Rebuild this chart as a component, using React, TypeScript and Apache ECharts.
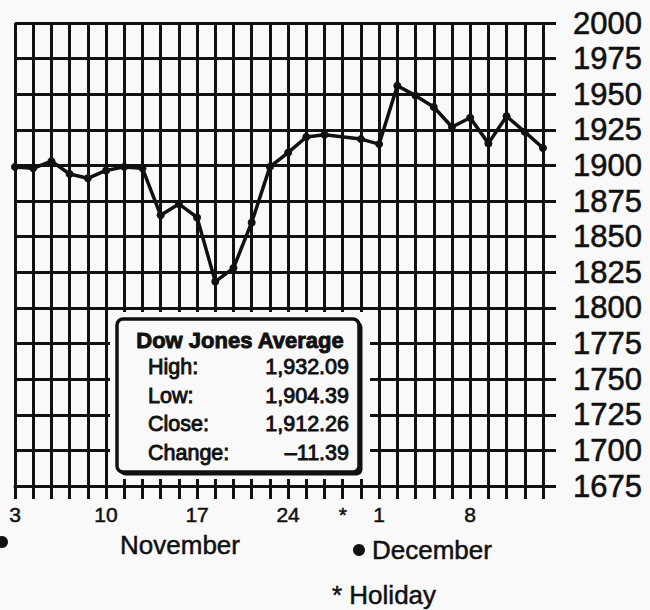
import React, { useEffect, useRef } from "react";
import * as echarts from "echarts";

// Trading days, Nov 3 – Dec 12 (holiday Nov 27 included as a grid line)
const categories = [
  "Nov 3", "Nov 4", "Nov 5", "Nov 6", "Nov 7",
  "Nov 10", "Nov 11", "Nov 12", "Nov 13", "Nov 14",
  "Nov 17", "Nov 18", "Nov 19", "Nov 20", "Nov 21",
  "Nov 24", "Nov 25", "Nov 26", "Nov 27", "Nov 28",
  "Dec 1", "Dec 2", "Dec 3", "Dec 4", "Dec 5",
  "Dec 8", "Dec 9", "Dec 10", "Dec 11", "Dec 12",
];
const tickLabels = [
  "3", "", "", "", "",
  "10", "", "", "", "",
  "17", "", "", "", "",
  "24", "", "", "*", "",
  "1", "", "", "", "",
  "8", "", "", "", "",
];
const closes: (number | null)[] = [
  1899, 1898, 1903, 1894, 1891,
  1896.5, 1899, 1898, 1865, 1873,
  1863.5, 1818.5, 1828, 1860, 1899,
  1909, 1920, 1921.5, null, 1918.5,
  1915, 1956, 1949, 1941, 1927,
  1933.5, 1915.5, 1934.5, 1923.6, 1912.3,
];
const yMin = 1675;
const yMax = 2000;
const yStep = 25;

const boxTitle = "Dow Jones Average";
const boxLabels = ["High:", "Low:", "Close:", "Change:"];
const boxValues = ["1,932.09", "1,904.39", "1,912.26", "\u201311.39"];

const monthLabels = ["November", "December"];
const holidayNote = "* Holiday";

const INK = "#111";
const PAPER = "#f9f9f9";
const FONT = "'Liberation Sans', Arial, Helvetica, sans-serif";

export default function App() {
  const ref = useRef<HTMLDivElement>(null);

  useEffect(() => {
    if (!ref.current) return;
    const chart = echarts.init(ref.current, undefined, { renderer: "svg" });

    const ink = (w: number) => ({ stroke: INK, lineWidth: w });
    const boxRowY = [367, 395.5, 424, 452.5];
    const graphics: any[] = [
      // white margin around the inset box
      { type: "rect", z: 100, shape: { x: 110, y: 312, width: 260, height: 167 }, style: { fill: PAPER } },
      // shadow
      { type: "rect", z: 101, shape: { x: 119.5, y: 321.5, width: 243, height: 154, r: 6 }, style: { fill: INK } },
      // box
      { type: "rect", z: 102, shape: { x: 117, y: 319, width: 242, height: 153, r: 6 }, style: { fill: PAPER, stroke: INK, lineWidth: 3.5 } },
      {
        type: "text", z: 103, x: 240, y: 340,
        style: { text: boxTitle, fill: INK, font: `bold 22px ${FONT}`, align: "center", verticalAlign: "middle", ...ink(0.9) },
      },
    ];
    boxLabels.forEach((t, i) => {
      graphics.push({
        type: "text", z: 103, x: 148, y: boxRowY[i],
        style: { text: t, fill: INK, font: `21.5px ${FONT}`, align: "left", verticalAlign: "middle", ...ink(0.9) },
      });
      graphics.push({
        type: "text", z: 103, x: 349, y: boxRowY[i],
        style: { text: boxValues[i], fill: INK, font: `21.5px ${FONT}`, align: "right", verticalAlign: "middle", ...ink(0.9) },
      });
    });
    // month markers
    graphics.push(
      { type: "circle", z: 103, shape: { cx: 2, cy: 542, r: 6 }, style: { fill: INK } },
      {
        type: "text", z: 103, x: 180, y: 545,
        style: { text: monthLabels[0], fill: INK, font: `26px ${FONT}`, align: "center", verticalAlign: "middle", ...ink(0.5) },
      },
      { type: "circle", z: 103, shape: { cx: 359, cy: 550, r: 6 }, style: { fill: INK } },
      {
        type: "text", z: 103, x: 372, y: 550,
        style: { text: monthLabels[1], fill: INK, font: `26px ${FONT}`, align: "left", verticalAlign: "middle", ...ink(0.5) },
      },
      {
        type: "text", z: 103, x: 332, y: 595,
        style: { text: holidayNote, fill: INK, font: `26px ${FONT}`, align: "left", verticalAlign: "middle", ...ink(0.5) },
      }
    );

    chart.setOption({
      animation: false,
      backgroundColor: PAPER,
      grid: { left: 15, right: 107, top: 23, bottom: 124, containLabel: false, outerBoundsMode: "none" },
      xAxis: {
        type: "category",
        data: categories,
        boundaryGap: false,
        axisLine: { show: true, lineStyle: { color: INK, width: 3 } },
        axisTick: { show: true, interval: 0, length: 13, inside: false, lineStyle: { color: INK, width: 3 } },
        splitLine: { show: true, interval: 0, lineStyle: { color: INK, width: 3 } },
        axisLabel: {
          show: true,
          interval: 0,
          margin: 18,
          color: INK,
          fontFamily: FONT,
          fontSize: 21,
          textBorderColor: INK,
          textBorderWidth: 0.5,
          formatter: (_v: string, i: number) => tickLabels[i],
        },
      },
      yAxis: {
        type: "value",
        position: "right",
        min: yMin,
        max: yMax,
        interval: yStep,
        axisLine: { show: false },
        axisTick: { show: true, length: 13, inside: false, lineStyle: { color: INK, width: 3 } },
        splitLine: { show: true, lineStyle: { color: INK, width: 3 } },
        axisLabel: {
          show: true,
          margin: 30,
          color: INK,
          fontFamily: FONT,
          fontSize: 31,
          textBorderColor: INK,
          textBorderWidth: 0.6,
          formatter: (v: number) => String(v),
        },
      },
      series: [
        {
          type: "line",
          data: closes,
          connectNulls: true,
          symbol: "circle",
          symbolSize: 8,
          showSymbol: true,
          lineStyle: { color: INK, width: 3.5 },
          itemStyle: { color: INK },
          z: 5,
        },
      ],
      graphic: graphics,
    });

    return () => chart.dispose();
  }, []);

  return (
    <div
      ref={ref}
      style={{ position: "fixed", left: 0, top: 0, width: 650, height: 610 }}
    />
  );
}
